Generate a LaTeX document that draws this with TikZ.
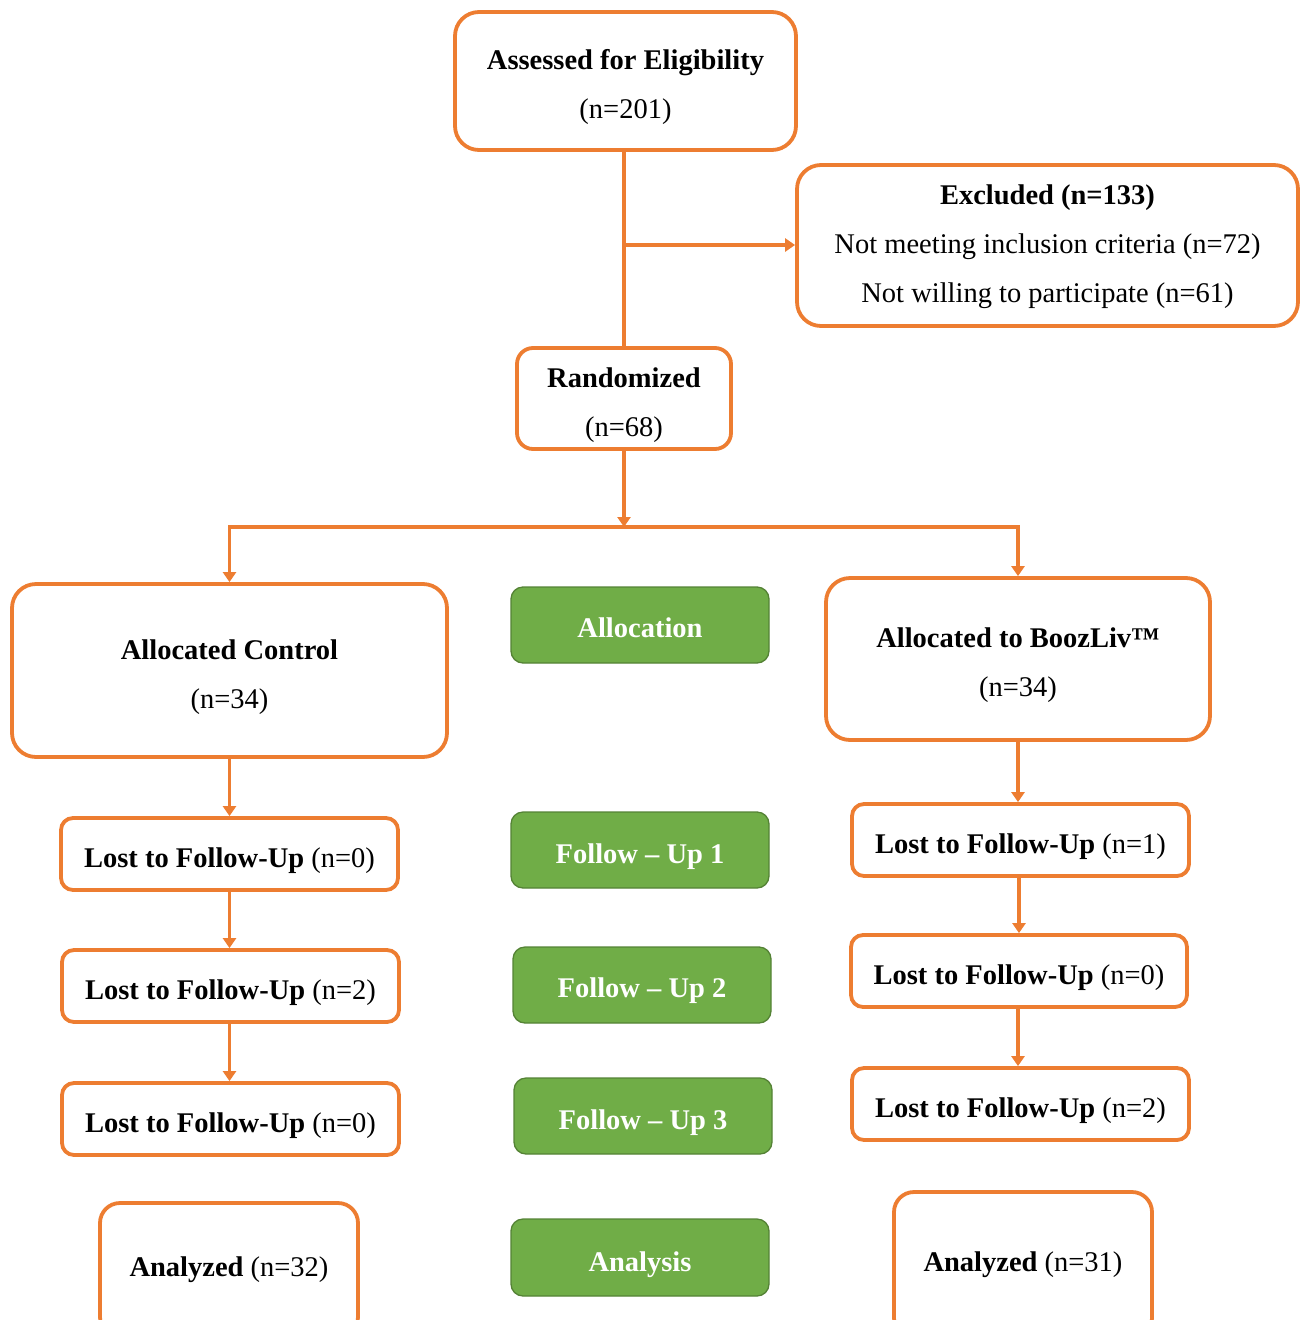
\documentclass[tikz,border=0pt]{standalone}
\usepackage{fontspec}
\setmainfont{Liberation Serif}
\usetikzlibrary{arrows.meta}
\definecolor{orr}{HTML}{ED7D31}
\definecolor{gfill}{HTML}{70AD47}
\definecolor{gline}{HTML}{548235}
\newcommand\tup[1]{\rule{0pt}{#1}}
\begin{document}
\begin{tikzpicture}[x=1pt,y=-1pt,
  down/.style={execute at begin node={\rule{0pt}{#1}}},
  obox/.style={draw=orr, line width=3.8pt, rounded corners=24pt, fill=white, align=center, inner sep=0pt,
    font=\fontsize{28.5}{49}\selectfont},
  lbox/.style={obox, rounded corners=12pt, down=33.5pt},
  gbox/.style={draw=gline, fill=gfill, line width=1.3pt, rounded corners=12pt, text=white, align=center, inner sep=0pt,
    font=\fontsize{28.5}{49}\selectfont\bfseries},
  conn/.style={draw=orr, line width=3.6pt},
  arr/.style={conn, -{Triangle[length=10pt,width=13pt]}}]
\useasboundingbox (0,0) rectangle (1306,1320);
\clip (0,0) rectangle (1306,1320);
% top
\node[obox, minimum width=341pt, minimum height=138pt] (assess) at (625.5,81) {\tup{31.5pt}\textbf{Assessed for Eligibility}\\(n=201)};
\node[obox, minimum width=501pt, minimum height=161pt] (excl) at (1047.5,245.5) {\tup{21.5pt}\textbf{Excluded (n=133)}\\Not meeting inclusion criteria (n=72)\\Not willing to participate (n=61)};
\node[obox, rounded corners=16pt, minimum width=214pt, minimum height=101pt] (rand) at (624,398.5) {\tup{33.5pt}\textbf{Randomized}\\(n=68)};
\coordinate (b1) at (624,245);
\coordinate (split) at (624,527);
\draw[conn] (assess.south -| rand.north) -- (rand.north);
\draw[arr] (b1) -- (excl.west |- b1);
\draw[arr] (rand.south) -- (split);
% allocation
\node[obox, minimum width=435pt, minimum height=173pt] (ctrl) at (229.5,670.5) {\tup{33.5pt}\textbf{Allocated Control}\\(n=34)};
\node[obox, minimum width=384pt, minimum height=162pt] (booz) at (1018,659) {\tup{31.5pt}\textbf{Allocated to BoozLiv™}\\(n=34)};
\draw[arr] (split) -| (ctrl.north);
\draw[arr] (split) -| (booz.north);
\node[gbox, down=25.5pt, minimum width=258pt, minimum height=76pt] (alloc) at (640,625) {Allocation};
% left column
\node[lbox, minimum width=337pt, minimum height=72pt] (l1) at (229.5,854) {\textbf{Lost to Follow-Up} (n=0)};
\node[lbox, minimum width=337pt, minimum height=72pt] (l2) at (230.5,986) {\textbf{Lost to Follow-Up} (n=2)};
\node[lbox, minimum width=337pt, minimum height=72pt] (l3) at (230.5,1119) {\textbf{Lost to Follow-Up} (n=0)};
\node[obox, rounded corners=20pt, minimum width=258pt, minimum height=134pt] (la) at (229,1270) {\textbf{Analyzed} (n=32)};
\draw[arr] (ctrl.south) -- (l1.north -| ctrl.south);
\draw[arr] (l1.south) -- (l2.north -| l1.south);
\draw[arr] (l2.south -| l1.south) -- (l3.north -| l1.south);
% middle
\node[gbox, down=33.5pt, minimum width=258pt, minimum height=76pt] (f1) at (640,850) {Follow – Up 1};
\node[gbox, down=31.5pt, minimum width=258pt, minimum height=76pt] (f2) at (642,985) {Follow – Up 2};
\node[gbox, down=33.5pt, minimum width=258pt, minimum height=76pt] (f3) at (643,1116) {Follow – Up 3};
\node[gbox, down=33.5pt, minimum width=258pt, minimum height=77pt] (an) at (640,1257.5) {Analysis};
% right column
\node[lbox, minimum width=337pt, minimum height=72pt] (r1) at (1020.5,840) {\textbf{Lost to Follow-Up} (n=1)};
\node[lbox, minimum width=336pt, minimum height=72pt] (r2) at (1019,971) {\textbf{Lost to Follow-Up} (n=0)};
\node[lbox, minimum width=337pt, minimum height=72pt] (r3) at (1020.5,1104) {\textbf{Lost to Follow-Up} (n=2)};
\node[obox, rounded corners=20pt, minimum width=258pt, minimum height=146pt] (ra) at (1023,1265) {\textbf{Analyzed} (n=31)};
\draw[arr] (booz.south) -- (r1.north -| booz.south);
\draw[arr] (r1.south -| r2.north) -- (r2.north);
\draw[arr] (r2.south -| booz.south) -- (r3.north -| booz.south);
\end{tikzpicture}
\end{document}
